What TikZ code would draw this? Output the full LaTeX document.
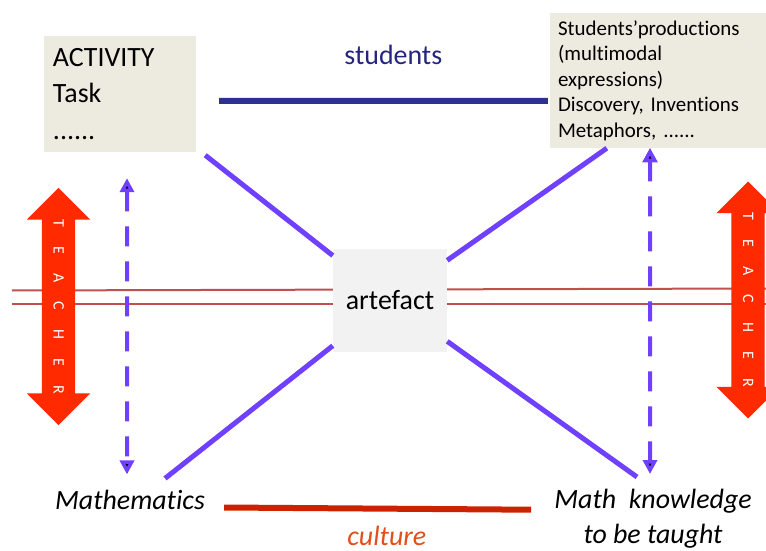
\documentclass[tikz,border=0pt]{standalone}
\usepackage{fontspec}
\setmainfont{Carlito}[Ligatures={NoCommon}]
\usetikzlibrary{arrows.meta,positioning,shapes.arrows}

\definecolor{boxbeige}{HTML}{EDEAE0}
\definecolor{artgray}{HTML}{F2F2F2}
\definecolor{navyline}{HTML}{2E3192}
\definecolor{navytext}{HTML}{25257F}
\definecolor{linkviolet}{HTML}{7040FF}
\definecolor{teacherred}{HTML}{FF2A00}
\definecolor{railred}{HTML}{C0504D}
\definecolor{culturered}{HTML}{CC2200}
\definecolor{culturetext}{HTML}{E0501A}

\newcommand{\teacherword}{T\hspace{19.2bp}E\hspace{19.2bp}A\hspace{19.2bp}C\hspace{19.2bp}H\hspace{19.2bp}E\hspace{19.2bp}R}

\begin{document}
\frenchspacing
\begin{tikzpicture}[x=1bp,y=-1bp,
    box/.style={fill=boxbeige,inner ysep=0pt,align=left},
    lbl/.style={inner sep=0pt,font=\fontsize{28}{35}\selectfont\itshape},
    teacher/.style={double arrow,rotate=-90,fill=teacherred,text=white,
      minimum height=237bp,double arrow head extend=15bp,inner xsep=0pt,
      inner ysep=11.5bp,text height=10bp,text depth=0pt,font=\fontsize{16}{16}\selectfont},
    link/.style={draw=linkviolet,line width=5bp},
    dlink/.style={draw=linkviolet,line width=4bp,dash pattern=on 20bp off 15bp,
      {Triangle[width=14bp,length=14bp]}-{Triangle[width=14bp,length=14bp]}},
    tie/.style={draw=navyline,line width=6bp},
    culture/.style={draw=culturered,line width=6bp},
    rail/.style={draw=railred,line width=2bp}]
      \useasboundingbox (0,0) rectangle (766,551);
      \clip (0,0) rectangle (766,551);

      % the two red lines across
      \draw[rail] (12,290.5) -- (766,288.5);
      \draw[rail] (12,304) -- (766,304);

      \node[box,text width=134bp,inner xsep=9bp,minimum height=116bp,
        font=\fontsize{28}{37}\selectfont] (act) at (120,94) {ACTIVITY\\Task\\......};
      \node[box,text width=200bp,inner xsep=8bp,minimum height=135bp,
        font=\fontsize{21}{25.6}\selectfont] (res) at (658,80.5)
        {Students’productions\\(multimodal\\expressions)\\Discovery, Inventions\\Metaphors, ......};
      \node[fill=artgray,minimum width=114bp,minimum height=103bp,
        font=\fontsize{28}{34}\selectfont] (art) at (390,300.5) {artefact};

      \node[teacher] (tl) at (58.5,306.5) {\teacherword};
      \node[teacher] (tr) at (748,300) {\teacherword};

      \node[lbl,anchor=base] (math) at (130,509) {Mathematics};
      \node[lbl,align=center,anchor=north] (know) at (653,489) {Math\ \ knowledge\\to be taught};

      \draw[tie] ([yshift=-7bp,xshift=23bp]act.east) --
        node[pos=0.53,above=33bp,inner sep=0pt,text=navytext,
          font=\fontsize{28}{34}\selectfont] {students}
        ([xshift=-2bp,yshift=-20.5bp]res.west);
      \draw[culture] ([xshift=19bp,yshift=1.5bp]math.base east) --
        node[pos=0.53,below=14bp,inner sep=0pt,text=culturetext,
          font=\fontsize{28}{34}\selectfont\itshape] {culture}
        ([xshift=-23bp,yshift=9bp]know.west);

      \path[link]
      ([xshift=9bp,yshift=-3bp]act.south east) edge (art)
      ([xshift=57bp]res.south west) edge (art)
      (art) edge ([xshift=35bp,yshift=11bp]math.north)
      (art) edge ([xshift=-16bp,yshift=12bp]know.north)
      ;

      \path[dlink]
      ([xshift=7bp,yshift=-26bp]act.south) edge ([xshift=-3bp,yshift=15bp]math.north)
      ([xshift=-8bp]res.south) edge ([xshift=-3bp,yshift=15bp]know.north)
      ;
    \end{tikzpicture}
\end{document}
